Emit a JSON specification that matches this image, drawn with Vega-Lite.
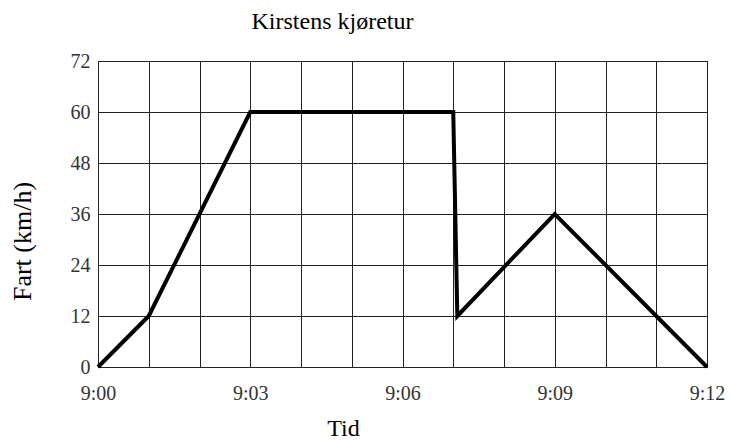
{
  "$schema": "https://vega.github.io/schema/vega-lite/v6.json",
  "width": 609,
  "height": 306,
  "autosize": "none",
  "padding": {"left": 98, "top": 61, "right": 23, "bottom": 73},
  "background": "white",
  "config": {
    "font": "Liberation Serif",
    "view": {"stroke": "#222", "strokeWidth": 1},
    "axis": {"labelFont": "Liberation Serif", "titleFont": "Liberation Serif"}
  },
  "title": {
    "text": "Kirstens kjøretur",
    "font": "Liberation Serif",
    "fontSize": 24,
    "fontWeight": "normal",
    "color": "black",
    "anchor": "middle",
    "frame": "group",
    "dx": -70,
    "offset": 17
  },
  "data": {
    "values": [
      {"minutt": 0, "fart": 0},
      {"minutt": 1, "fart": 12},
      {"minutt": 3, "fart": 60},
      {"minutt": 7, "fart": 60},
      {"minutt": 7.08, "fart": 12},
      {"minutt": 9, "fart": 36},
      {"minutt": 12, "fart": 0}
    ]
  },
  "mark": {"type": "line", "color": "black", "strokeWidth": 4, "strokeJoin": "miter"},
  "encoding": {
    "x": {
      "field": "minutt",
      "type": "quantitative",
      "scale": {"domain": [0, 12], "nice": false, "zero": false},
      "axis": {
        "title": "Tid",
        "values": [0, 1, 2, 3, 4, 5, 6, 7, 8, 9, 10, 11, 12],
        "labelExpr": "datum.value % 3 === 0 ? '9:' + (datum.value < 10 ? '0' : '') + datum.value : ''",
        "labelFont": "Liberation Serif",
        "labelFontSize": 20,
        "labelColor": "#333",
        "labelPadding": 16,
        "labelFlush": false,
        "labelOverlap": false,
        "ticks": false,
        "domainColor": "#222",
        "gridColor": "#222",
        "gridOpacity": 1,
        "gridWidth": 1,
        "titleFont": "Liberation Serif",
        "titleFontSize": 24,
        "titleFontWeight": "normal",
        "titleColor": "black",
        "titleX": 245,
        "titleY": 61,
        "titleBaseline": "middle"
      }
    },
    "y": {
      "field": "fart",
      "type": "quantitative",
      "scale": {"domain": [0, 72], "nice": false},
      "axis": {
        "title": "Fart (km/h)",
        "values": [0, 12, 24, 36, 48, 60, 72],
        "labelFont": "Liberation Serif",
        "labelFontSize": 20,
        "labelColor": "#333",
        "labelPadding": 8,
        "ticks": false,
        "domainColor": "#222",
        "gridColor": "#222",
        "gridOpacity": 1,
        "gridWidth": 1,
        "titleFont": "Liberation Serif",
        "titleFontSize": 26,
        "titleFontWeight": "normal",
        "titleColor": "black",
        "titleX": -76,
        "titleY": 180,
        "titleBaseline": "middle",
        "titleAngle": -90
      }
    }
  }
}
